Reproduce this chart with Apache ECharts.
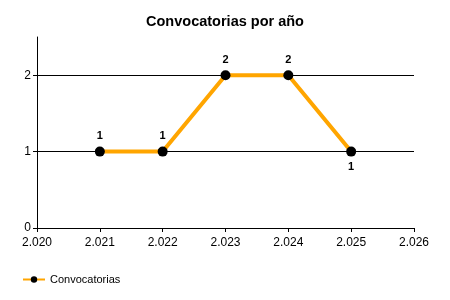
<!DOCTYPE html>
<html><head><meta charset="utf-8">
<script src="https://cdn.jsdelivr.net/npm/echarts@6/dist/echarts.min.js"></script>
<style>html,body{margin:0;padding:0;background:#fff}#c{width:450px;height:300px}</style>
</head><body><div id="c"></div>
<script>
const years = [2021, 2022, 2023, 2024, 2025];
const values = [1, 1, 2, 2, 1];
const labelPositions = ['top', 'top', 'top', 'top', 'bottom'];
const yTicks = [0, 1, 2];
const gridValues = [1, 2];
const seriesName = 'Convocatorias';
const titleText = 'Convocatorias por año';

const FONT = '"Liberation Sans", Arial, sans-serif';
const chart = echarts.init(document.getElementById('c'), null, {renderer: 'canvas'});
chart.setOption({
  animation: false,
  backgroundColor: '#fff',
  title: {text: titleText, left: 'center', top: 9,
    textStyle: {fontFamily: FONT, fontSize: 14.5, fontWeight: 'bold', color: '#000'}},
  legend: {left: 22, top: 274, padding: 0, itemWidth: 22, itemHeight: 8, itemGap: 4,
    textStyle: {fontFamily: FONT, fontSize: 11, color: '#000'},
    data: [seriesName]},
  grid: {left: 37, right: 36, top: 37, bottom: 72},
  xAxis: {type: 'value', min: 2020, max: 2026, interval: 1,
    axisLine: {show: true, lineStyle: {color: '#000', width: 1}},
    axisTick: {show: true, inside: false, length: 4, lineStyle: {color: '#000'}},
    splitLine: {show: false},
    axisLabel: {fontFamily: FONT, fontSize: 12, color: '#000', margin: 9, hideOverlap: false,
      formatter: v => { const s = String(v); return s.slice(0, 1) + '.' + s.slice(1); }}},
  yAxis: {type: 'value', min: 0, max: 2.5,
    axisLine: {show: true, lineStyle: {color: '#000', width: 1}},
    axisTick: {show: true, inside: false, length: 4, customValues: yTicks, lineStyle: {color: '#000'}},
    splitLine: {show: false},
    axisLabel: {fontFamily: FONT, fontSize: 12, color: '#000', margin: 6, customValues: yTicks}},
  series: [{
    name: seriesName, type: 'line',
    data: years.map((y, i) => ({value: [y, values[i]], label: {position: labelPositions[i]}})),
    lineStyle: {color: '#FFA500', width: 4},
    itemStyle: {color: '#000', borderWidth: 0},
    symbol: 'circle', symbolSize: 10, z: 3,
    label: {show: true, fontFamily: FONT, fontSize: 11, fontWeight: 'bold', color: '#000', distance: 5,
      formatter: p => p.value[1]},
    markLine: {silent: true, symbol: 'none', z: 1, label: {show: false},
      lineStyle: {color: '#000', width: 1, type: 'solid'},
      data: gridValues.map(v => ({yAxis: v}))}
  }]
});
</script></body></html>
